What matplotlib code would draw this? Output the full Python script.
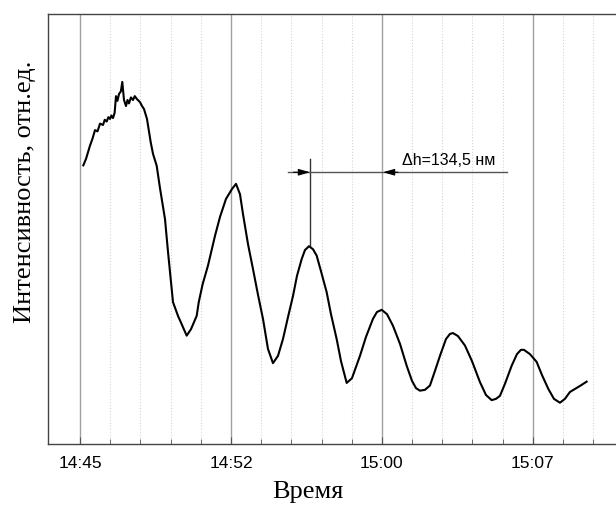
import matplotlib.pyplot as plt
from matplotlib.ticker import MultipleLocator, FixedLocator, FuncFormatter

# minutes after 14:45
minutes = [0.164, 0.298, 0.497, 0.620, 0.745, 0.870, 0.994, 1.143, 1.230, 1.326, 1.410,
           1.490, 1.560, 1.639, 1.720, 1.788, 1.860, 1.937, 2.030, 2.101, 2.186, 2.285,
           2.360, 2.434, 2.530, 2.633, 2.720, 2.831, 2.981, 3.080, 3.179, 3.328, 3.512,
           3.626, 3.810, 3.974, 4.223, 4.372, 4.620, 4.868, 5.067, 5.300, 5.514, 5.797,
           5.900, 6.095, 6.359, 6.706, 6.955, 7.253, 7.551, 7.750, 7.948, 8.097, 8.346,
           8.594, 8.843, 9.091, 9.339, 9.588, 9.836, 10.084, 10.333, 10.581, 10.780,
           11.013, 11.177, 11.376, 11.575, 11.759, 11.972, 12.255, 12.469, 12.752,
           12.966, 13.249, 13.512, 13.711, 13.910, 14.208, 14.555, 14.754, 14.988,
           15.251, 15.549, 15.897, 16.230, 16.493, 16.692, 16.890, 17.139, 17.387,
           17.636, 17.884, 18.182, 18.381, 18.530, 18.778, 19.126, 19.473, 19.871,
           20.169, 20.452, 20.666, 20.865, 21.113, 21.446, 21.709, 21.908, 22.057,
           22.355, 22.687, 22.956, 23.269, 23.547, 23.845, 24.093, 24.342, 24.590,
           24.839, 25.171]
intensity = [6.48, 6.63, 6.94, 7.10, 7.30, 7.27, 7.45, 7.42, 7.54, 7.50, 7.60,
             7.56, 7.64, 7.58, 7.70, 8.09, 7.98, 8.14, 8.20, 8.42, 8.00, 7.86,
             8.00, 7.92, 8.06, 8.00, 8.09, 8.02, 7.95, 7.86, 7.79, 7.56, 7.02,
             6.75, 6.47, 5.95, 5.23, 4.47, 3.30, 2.98, 2.77, 2.52, 2.67, 2.98,
             3.30, 3.72, 4.15, 4.84, 5.28, 5.70, 5.93, 6.05, 5.81, 5.35, 4.65,
             4.07, 3.47, 2.91, 2.21, 1.88, 2.05, 2.44, 2.95, 3.44, 3.91,
             4.30, 4.51, 4.60, 4.53, 4.38, 4.02, 3.53, 3.02, 2.44,
             1.93, 1.42, 1.53, 1.79, 2.05, 2.49, 2.91, 3.07, 3.12,
             3.02, 2.75, 2.33, 1.82, 1.47, 1.30, 1.24, 1.26, 1.36,
             1.70, 2.05, 2.44, 2.56, 2.58, 2.51, 2.29, 1.93, 1.44,
             1.14, 1.02, 1.05, 1.12, 1.40, 1.82, 2.09, 2.19, 2.19,
             2.09, 1.91, 1.60, 1.28, 1.05, 0.96, 1.05, 1.21, 1.28,
             1.35, 1.45]

minor_ticks = [1.5 * i for i in range(18)]

peak_time = 11.43
peak_value = 4.60
next_peak_time = 15.05
bar_level = 6.32
bar_top = 6.63
delta_text = "\u0394h=134,5 нм"


def time_label(m, pos):
    total = 14 * 60 + 45 + int(m)
    return f"{total // 60}:{total % 60:02d}"


fig = plt.figure(figsize=(6.16, 5.06), dpi=100)
ax = fig.add_axes([48 / 616, 61 / 506, 568 / 616, 430 / 506])

ax.plot(minutes, intensity, color="black", lw=1.5, zorder=3)

ax.set_xlim(-1.59, 26.63)
ax.set_ylim(0, 10)

ax.xaxis.set_major_locator(MultipleLocator(7.5))
ax.xaxis.set_minor_locator(FixedLocator(minor_ticks))
ax.xaxis.set_major_formatter(FuncFormatter(time_label))
ax.grid(True, which="major", axis="x", color="#a0a0a0", lw=1.0)
ax.grid(True, which="minor", axis="x", color="#d5d5d5", lw=0.8, ls=":")
ax.set_yticks([])
ax.tick_params(axis="x", which="major", direction="in", length=5, color="#555555",
               labelsize=12.5, pad=8)
ax.tick_params(axis="x", which="minor", direction="in", length=3.5, color="#555555")
for lab in ax.get_xticklabels():
    lab.set_family("Liberation Sans")

ax.spines["right"].set_visible(False)
for s in ["left", "bottom", "top"]:
    ax.spines[s].set_color("#444444")
    ax.spines[s].set_linewidth(1.0)

# delta h annotation
ax.plot([peak_time, peak_time], [peak_value, bar_top], color="#333333", lw=1.0)
ax.plot([10.33, 21.2], [bar_level, bar_level], color="#555555", lw=1.0)
ax.annotate("", xy=(peak_time, bar_level), xytext=(10.6, bar_level),
            arrowprops=dict(arrowstyle="-|>,head_length=0.7,head_width=0.2",
                            color="black", lw=0.8, shrinkA=0, shrinkB=0))
ax.annotate("", xy=(next_peak_time, bar_level), xytext=(15.8, bar_level),
            arrowprops=dict(arrowstyle="-|>,head_length=0.7,head_width=0.2",
                            color="black", lw=0.8, shrinkA=0, shrinkB=0))
ax.text(15.98, 6.45, delta_text, fontsize=11.5, family="Liberation Sans",
        ha="left", va="bottom")

fig.text(308 / 616, 1 - 492 / 506, "Время", family="Liberation Serif",
         fontsize=19, ha="center", va="center")
fig.text(25 / 616, 1 - 192 / 506, "Интенсивность, отн.ед.", family="Liberation Serif",
         fontsize=19, rotation=90, ha="center", va="center")

fig.savefig("out.png", dpi=100)
